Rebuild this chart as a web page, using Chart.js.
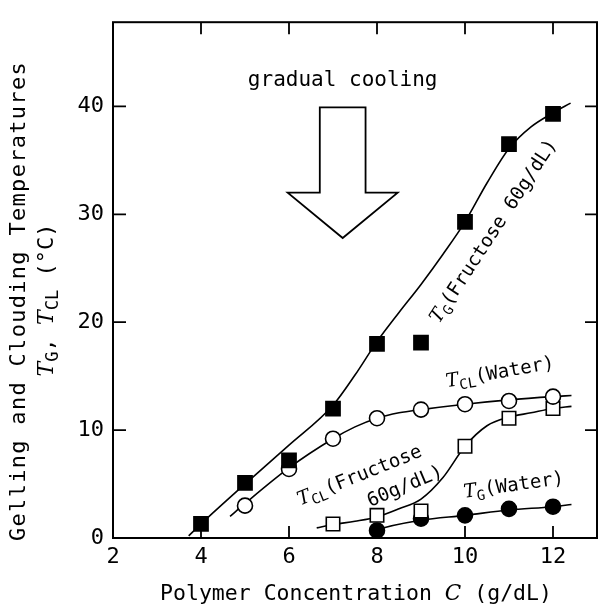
<!DOCTYPE html>
<html>
<head>
<meta charset="utf-8">
<script src="https://cdn.jsdelivr.net/npm/chart.js@4.4.0/dist/chart.umd.min.js"></script>
<style>
  html, body { margin: 0; padding: 0; background: #fff; }
</style>
</head>
<body>
<canvas id="gelChart" width="600" height="608"></canvas>
<script>
// measured points (polymer conc g/dL -> temperature degC)
const concTgFru = [4, 5, 6, 7, 8, 9, 10, 11, 12];
const tgFructose = [1.3, 5.1, 7.2, 12.0, 18.0, 18.1, 29.3, 36.5, 39.3];
const concTclWater = [5, 6, 7, 8, 9, 10, 11, 12];
const tclWater = [3.0, 6.4, 9.2, 11.1, 11.9, 12.4, 12.7, 13.1];
const concTclFru = [7, 8, 9, 10, 11, 12];
const tclFructose = [1.3, 2.1, 2.5, 8.5, 11.1, 12.0];
const concTgWater = [8, 9, 10, 11, 12];
const tgWater = [0.7, 1.8, 2.1, 2.7, 2.9];

// hand drawn guide curves
const fitTgFruX = [3.72, 4, 5, 6, 7, 7.5, 8, 8.5, 9, 9.5, 10, 10.5, 11, 11.5, 12, 12.4];
const fitTgFruY = [0.2, 1.3, 5.0, 8.6, 12.3, 15.1, 18.2, 20.9, 23.5, 26.3, 29.3, 32.9, 36.1, 38.1, 39.4, 40.3];
const fitTclWaterX = [4.66, 5, 6, 7, 7.5, 8, 8.5, 9, 10, 11, 12, 12.42];
const fitTclWaterY = [2.0, 3.2, 6.5, 9.2, 10.3, 11.1, 11.6, 11.9, 12.4, 12.8, 13.1, 13.2];
const fitTclFruX = [6.63, 7, 7.5, 8, 8.5, 9, 9.5, 10, 10.5, 11, 11.5, 12, 12.42];
const fitTclFruY = [0.94, 1.25, 1.55, 1.95, 2.7, 3.6, 5.6, 8.5, 10.4, 11.2, 11.6, 12.0, 12.2];
const fitTgWaterX = [7.85, 8, 9, 10, 11, 12, 12.42];
const fitTgWaterY = [0.45, 0.75, 1.65, 2.1, 2.6, 2.9, 3.1];

// axes
const xTicks = [2, 4, 6, 8, 10, 12];
const yTicks = [0, 10, 20, 30, 40];

const ink = '#000';
const mono = '"DejaVu Sans Mono"';

function pts(xs, ys) {
    return xs.map((x, i) => ({ x: x, y: ys[i] }));
}

function markers(xs, ys, style, radius, fill) {
    return {
        data: pts(xs, ys),
        showLine: false,
        pointStyle: style,
        pointRadius: radius,
        pointBackgroundColor: fill,
        pointBorderColor: ink,
        pointBorderWidth: 1.6,
        order: 0
    };
}

function guide(xs, ys) {
    return {
        data: pts(xs, ys),
        showLine: true,
        pointRadius: 0,
        borderColor: ink,
        borderWidth: 1.6,
        cubicInterpolationMode: 'monotone',
        order: 1
    };
}

// text with italic T and subscripts
function richText(ctx, parts, cx, cy, angle, size) {
    const fonts = {
        n: size + 'px ' + mono,
        i: 'italic ' + size + 'px "DejaVu Serif"',
        s: Math.round(size * 0.75) + 'px ' + mono
    };
    ctx.save();
    ctx.translate(cx, cy);
    ctx.rotate(angle * Math.PI / 180);
    ctx.textBaseline = 'middle';
    ctx.textAlign = 'left';
    ctx.fillStyle = ink;
    let w = 0;
    parts.forEach(p => { ctx.font = fonts[p[1]]; w += ctx.measureText(p[0]).width; });
    let x = -w / 2;
    parts.forEach(p => {
        ctx.font = fonts[p[1]];
        ctx.fillText(p[0], x, p[1] === 's' ? size * 0.3 : 0);
        x += ctx.measureText(p[0]).width;
    });
    ctx.restore();
}

const notes = {
    id: 'notes',
    beforeDatasetsDraw(chart) {
        const { ctx, chartArea: a, scales: { x, y } } = chart;
        ctx.save();
        ctx.strokeStyle = ink;
        ctx.lineWidth = 2;
        ctx.strokeRect(a.left, a.top, a.right - a.left, a.bottom - a.top);

        // inward tick marks on all four sides
        ctx.lineWidth = 1.8;
        ctx.beginPath();
        xTicks.slice(1).forEach(v => {
            const px = x.getPixelForValue(v);
            ctx.moveTo(px, a.bottom); ctx.lineTo(px, a.bottom - 12);
            ctx.moveTo(px, a.top); ctx.lineTo(px, a.top + 12);
        });
        yTicks.slice(1).forEach(v => {
            const py = y.getPixelForValue(v);
            ctx.moveTo(a.left, py); ctx.lineTo(a.left + 13, py);
            ctx.moveTo(a.right, py); ctx.lineTo(a.right - 12, py);
        });
        ctx.stroke();

        // big "gradual cooling" arrow
        const ax = 7.22;
        const outline = [
            [ax - 0.52, 39.9], [ax + 0.52, 39.9], [ax + 0.52, 32.0], [ax + 1.25, 32.0],
            [ax, 27.8], [ax - 1.25, 32.0], [ax - 0.52, 32.0]
        ];
        ctx.beginPath();
        outline.forEach((p, i) => {
            const px = x.getPixelForValue(p[0]), py = y.getPixelForValue(p[1]);
            if (i === 0) ctx.moveTo(px, py); else ctx.lineTo(px, py);
        });
        ctx.closePath();
        ctx.lineWidth = 1.8;
        ctx.stroke();
        ctx.restore();
    },
    afterDraw(chart) {
        const { ctx, scales: { x, y } } = chart;
        ctx.save();
        ctx.fillStyle = ink;
        ctx.textAlign = 'center';
        ctx.textBaseline = 'middle';
        ctx.font = '21px ' + mono;
        ctx.fillText('gradual cooling', x.getPixelForValue(7.22), y.getPixelForValue(42.4));
        ctx.restore();

        const X = v => x.getPixelForValue(v), Y = v => y.getPixelForValue(v);
        richText(ctx, [['T', 'i'], ['G', 's'], ['(Fructose 60g/dL)', 'n']], X(10.66), Y(28.4), -56.7, 19);
        richText(ctx, [['T', 'i'], ['CL', 's'], ['(Water)', 'n']], X(10.8), Y(15.3), -10, 19);
        richText(ctx, [['T', 'i'], ['CL', 's'], ['(Fructose', 'n']], X(7.61), Y(5.74), -22, 19);
        richText(ctx, [['60g/dL)', 'n']], X(8.64), Y(4.74), -23, 19);
        richText(ctx, [['T', 'i'], ['G', 's'], ['(Water)', 'n']], X(11.11), Y(4.83), -8, 19);

        // axis titles
        ctx.save();
        ctx.fillStyle = ink;
        ctx.textAlign = 'center';
        ctx.textBaseline = 'middle';
        ctx.font = '22px ' + mono;
        ctx.translate(19, 301);
        ctx.rotate(-Math.PI / 2);
        ctx.letterSpacing = '1.3px';
        ctx.fillText('Gelling and Clouding Temperatures', 0, 0);
        ctx.restore();
        richText(ctx, [['T', 'i'], ['G', 's'], [', ', 'n'], ['T', 'i'], ['CL', 's'], [' (\u00B0C)', 'n']], 47, 300, -90, 22);
        richText(ctx, [['Polymer Concentration ', 'n'], ['C', 'i'], [' (g/dL)', 'n']], 356, 594, 0, 21.5);
    }
};

new Chart(document.getElementById('gelChart').getContext('2d'), {
    type: 'scatter',
    data: {
        datasets: [
            markers(concTgFru, tgFructose, 'rect', 10, ink),
            markers(concTclWater, tclWater, 'circle', 7.5, '#fff'),
            markers(concTclFru, tclFructose, 'rect', 9.5, '#fff'),
            markers(concTgWater, tgWater, 'circle', 7.5, ink),
            guide(fitTgFruX, fitTgFruY),
            guide(fitTclWaterX, fitTclWaterY),
            guide(fitTclFruX, fitTclFruY),
            guide(fitTgWaterX, fitTgWaterY)
        ]
    },
    options: {
        responsive: false,
        animation: false,
        devicePixelRatio: 1,
        layout: { autoPadding: false, padding: { left: 0, right: 3, top: 13, bottom: 0 } },
        plugins: { legend: { display: false }, tooltip: { enabled: false } },
        scales: {
            x: {
                type: 'linear', min: 2, max: 13,
                grid: { display: false, drawTicks: false },
                border: { display: false },
                ticks: {
                    stepSize: 2, includeBounds: false, maxRotation: 0,
                    color: ink, padding: 6, font: { family: 'DejaVu Sans Mono', size: 22 }
                },
                afterFit(s) { s.height = 70; }
            },
            y: {
                type: 'linear', min: 0, max: 47.8,
                grid: { display: false, drawTicks: false },
                border: { display: false },
                ticks: {
                    stepSize: 10, includeBounds: false,
                    color: ink, padding: 9, font: { family: 'DejaVu Sans Mono', size: 22 }
                },
                afterFit(s) { s.width = 113; }
            }
        }
    },
    plugins: [notes]
});
</script>
</body>
</html>
